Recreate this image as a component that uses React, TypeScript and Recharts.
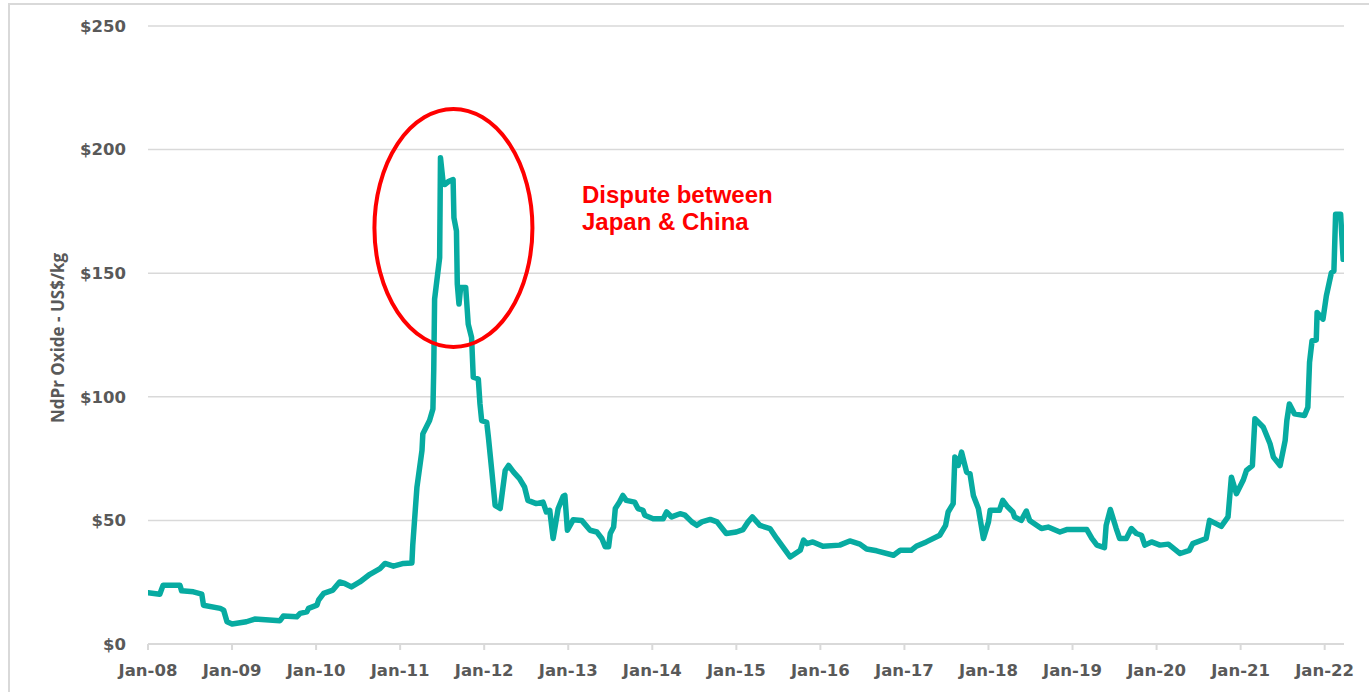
import React from 'react';
import { LineChart, Line, XAxis, YAxis, CartesianGrid, ReferenceDot } from 'recharts';

// decimal years
const times = [
  2008.0, 2008.14, 2008.18, 2008.38, 2008.4, 2008.54, 2008.64, 2008.66, 2008.86, 2008.9,
  2008.94, 2009.0, 2009.17, 2009.27, 2009.57, 2009.61, 2009.77, 2009.81, 2009.89, 2009.91,
  2010.01, 2010.03, 2010.09, 2010.2, 2010.28, 2010.34, 2010.42, 2010.52, 2010.64, 2010.76,
  2010.82, 2010.92, 2011.04, 2011.14, 2011.15, 2011.2, 2011.26, 2011.27, 2011.35, 2011.39,
  2011.4, 2011.41, 2011.47, 2011.48, 2011.51, 2011.53, 2011.58, 2011.63, 2011.64, 2011.67,
  2011.68, 2011.7, 2011.72, 2011.78, 2011.81, 2011.85, 2011.87, 2011.93, 2011.95, 2011.97,
  2012.03, 2012.05, 2012.09, 2012.13, 2012.19, 2012.25, 2012.29, 2012.35, 2012.42, 2012.48,
  2012.52, 2012.62, 2012.7, 2012.74, 2012.78, 2012.82, 2012.88, 2012.94, 2012.96, 2012.99,
  2013.06, 2013.16, 2013.26, 2013.34, 2013.4, 2013.44, 2013.48, 2013.5, 2013.54, 2013.56,
  2013.61, 2013.65, 2013.69, 2013.79, 2013.83, 2013.89, 2013.91, 2014.01, 2014.13, 2014.17,
  2014.23, 2014.33, 2014.39, 2014.47, 2014.53, 2014.59, 2014.69, 2014.77, 2014.88, 2015.0,
  2015.08, 2015.14, 2015.19, 2015.28, 2015.4, 2015.48, 2015.64, 2015.76, 2015.8, 2015.84,
  2015.91, 2016.03, 2016.23, 2016.35, 2016.47, 2016.55, 2016.67, 2016.87, 2016.95, 2017.08,
  2017.14, 2017.26, 2017.42, 2017.49, 2017.52, 2017.58, 2017.6, 2017.64, 2017.68, 2017.74,
  2017.78, 2017.82, 2017.88, 2017.94, 2018.0, 2018.02, 2018.13, 2018.17, 2018.23, 2018.29,
  2018.31, 2018.39, 2018.45, 2018.49, 2018.63, 2018.71, 2018.85, 2018.93, 2019.17, 2019.23,
  2019.29, 2019.38, 2019.4, 2019.45, 2019.52, 2019.56, 2019.64, 2019.7, 2019.76, 2019.82,
  2019.86, 2019.94, 2020.04, 2020.14, 2020.28, 2020.39, 2020.43, 2020.59, 2020.63, 2020.77,
  2020.85, 2020.89, 2020.95, 2021.03, 2021.07, 2021.14, 2021.17, 2021.27, 2021.35, 2021.39,
  2021.47, 2021.53, 2021.55, 2021.58, 2021.64, 2021.76, 2021.8, 2021.82, 2021.85, 2021.9,
  2021.91, 2021.98, 2022.02, 2022.08, 2022.11, 2022.13, 2022.19, 2022.22,
];

// NdPr oxide price, US$/kg
const prices = [
  20.7, 20.1, 23.8, 23.8, 21.5, 21.1, 20.2, 15.7, 14.4, 13.7,
  9.0, 8.1, 9.0, 10.1, 9.4, 11.3, 11.0, 12.4, 13.0, 14.4,
  15.7, 17.8, 20.5, 21.8, 25.1, 24.5, 23.1, 25.1, 28.2, 30.5,
  32.6, 31.5, 32.6, 32.8, 40, 63.5, 78.3, 85, 90.4, 95.1,
  111.3, 139.5, 156.3, 196.7, 187.2, 185.9, 187.2, 187.9, 172.4, 167.1,
  145.6, 137.5, 144.2, 144.2, 129.4, 124, 107.9, 107.2, 97.1, 90.4,
  89.7, 83.7, 70.2, 56.1, 54.8, 70.2, 72.2, 69.5, 66.9, 63.5,
  58.1, 56.8, 57.4, 53.4, 54.1, 42.7, 54.8, 59.7, 60.1, 46,
  50.3, 50, 46, 45.3, 42.7, 39.3, 39.3, 44.7, 47.3, 54.8,
  57.4, 60.1, 58.1, 57.4, 54.8, 54.1, 52.1, 50.7, 50.7, 53.4,
  51.4, 52.7, 52.1, 49.4, 48, 49.4, 50.4, 49.4, 44.7, 45.3,
  46.3, 49.4, 51.4, 48, 46.7, 42.7, 35.2, 37.9, 42, 40.6,
  41.3, 39.5, 40, 41.7, 40.4, 38.4, 37.7, 35.9, 37.9, 37.9,
  39.5, 41.3, 44, 48, 53.4, 56.8, 75.6, 72.2, 77.6, 69.5,
  68.9, 60.1, 54.8, 42.7, 49.4, 54.1, 54.1, 58.1, 55.4, 53.4,
  51.4, 50, 53.8, 50, 46.7, 47.3, 45.3, 46.3, 46.3, 42.7,
  40, 39, 48, 54.4, 46.7, 42.7, 42.7, 46.7, 44.7, 44,
  40, 41.3, 40, 40.4, 36.6, 37.9, 40.6, 42.7, 50, 47.6,
  51.4, 67.5, 60.8, 66.2, 70.2, 72.2, 91.1, 87.7, 81, 75.6,
  72.2, 82.3, 90.4, 97.1, 93.1, 92.4, 95.8, 113.9, 122.7, 123,
  134.1, 131.4, 140.8, 150.2, 150.9, 173.8, 173.8, 155.6,
];

const yearTicks = [2008, 2009, 2010, 2011, 2012, 2013, 2014, 2015, 2016, 2017, 2018, 2019, 2020, 2021, 2022];
const priceTicks = [0, 50, 100, 150, 200, 250];

const data = times.map((t, i) => ({ t, price: prices[i] }));

const TEAL = '#07ABA1';
const GREY_TEXT = '#595959';
const GRID = '#d9d9d9';
const tickFont = { fontFamily: 'DejaVu Sans', fontWeight: 700, fontSize: 16.5, fill: GREY_TEXT };

const Ellipse = (props: any) => (
  <ellipse cx={props.cx} cy={props.cy} rx={79} ry={119} fill="none" stroke="#ff0000" strokeWidth={4} />
);

export default function App() {
  return (
    <div style={{ position: 'fixed', left: 0, top: 0, width: 1369, height: 692, overflow: 'hidden', background: '#fff' }}>
      <div style={{ position: 'absolute', left: 8, top: 3, width: 1400, height: 720, border: `2px solid ${GRID}`, boxSizing: 'border-box' }} />
      <div style={{ position: 'absolute', left: 0, top: 0 }}>
        <LineChart width={1369} height={692} data={data} margin={{ top: 26, right: 25, left: 58, bottom: 8 }}>
          <CartesianGrid vertical={false} stroke={GRID} strokeWidth={1.5} />
          <XAxis
            dataKey="t"
            type="number"
            domain={[2008, 2022.23]}
            ticks={yearTicks}
            tickFormatter={(v: number) => `Jan-${String(v - 2000).padStart(2, '0')}`}
            height={40}
            stroke={GRID}
            strokeWidth={2}
            tickSize={6}
            tickMargin={14}
            tick={tickFont}
            interval={0}
            allowDataOverflow
          />
          <YAxis
            domain={[0, 250]}
            ticks={priceTicks}
            tickFormatter={(v: number) => `$${v}`}
            width={90}
            axisLine={false}
            tickLine={false}
            tickSize={6}
            tickMargin={16}
            tick={tickFont}
          />
          <Line
            type="linear"
            dataKey="price"
            stroke={TEAL}
            strokeWidth={5.5}
            strokeLinejoin="round"
            strokeLinecap="round"
            dot={false}
            isAnimationActive={false}
          />
          <ReferenceDot x={2011.634} y={168.3} shape={Ellipse} ifOverflow="visible" />
        </LineChart>
      </div>
      <svg width={1369} height={692} style={{ position: 'absolute', left: 0, top: 0, pointerEvents: 'none' }}>
        <text
          x={64}
          y={338}
          transform="rotate(-90, 64, 338)"
          textAnchor="middle"
          fontFamily="Open Sans"
          fontWeight={700}
          fontSize={17}
          fill={GREY_TEXT}
        >
          NdPr Oxide - US$/kg
        </text>
        <text x={582} y={203} fontFamily="Liberation Sans" fontWeight={700} fontSize={24} fill="#ff0000">
          Dispute between
        </text>
        <text x={582} y={230} fontFamily="Liberation Sans" fontWeight={700} fontSize={24} fill="#ff0000">
          Japan &amp; China
        </text>
      </svg>
    </div>
  );
}
